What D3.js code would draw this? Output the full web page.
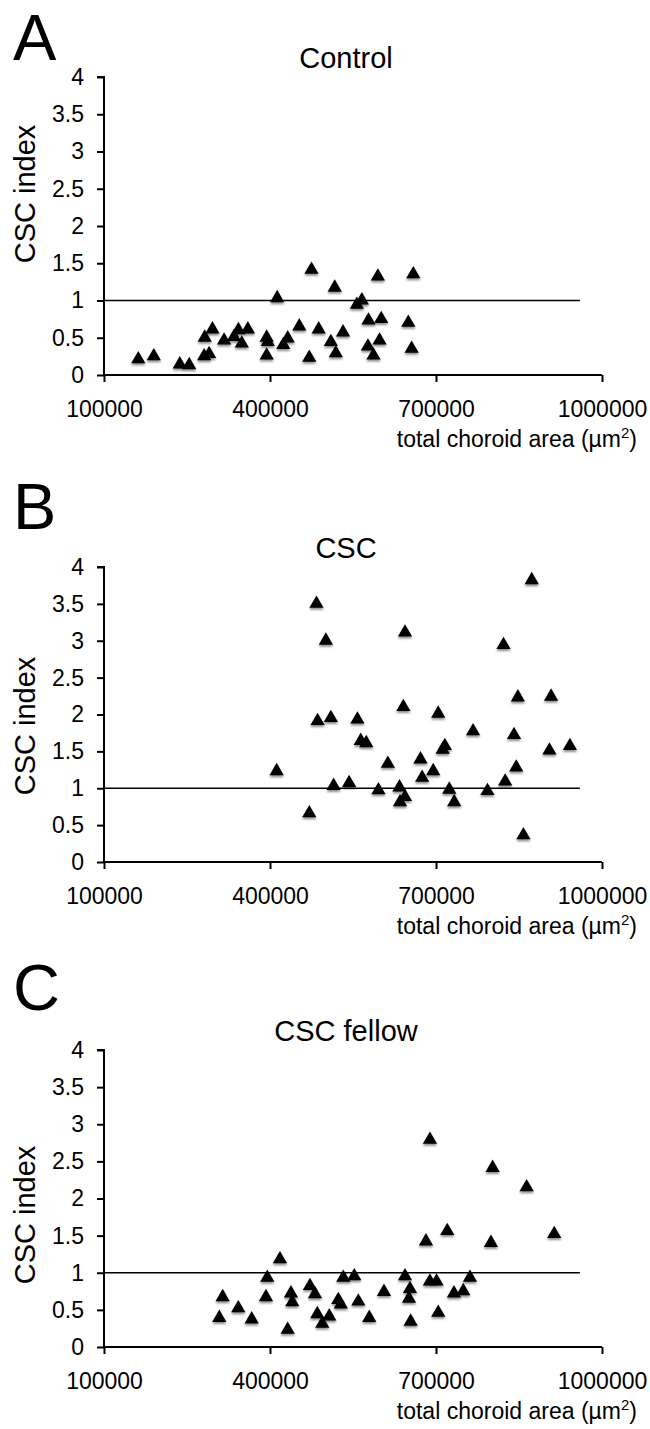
<!DOCTYPE html>
<html>
<head>
<meta charset="utf-8">
<script src="https://cdn.jsdelivr.net/npm/d3@7"></script>
<style>
  body { margin: 0; background: #fff; }
  svg { display: block; font-family: "Liberation Sans", Arial, sans-serif; }
</style>
</head>
<body>
<svg id="chart" width="650" height="1429"></svg>
<script>
// values: [total choroid area, CSC index]
const controlPts = [
  [162000,0.24],[190000,0.28],[237000,0.17],[254000,0.16],[281000,0.28],[290000,0.31],
  [282000,0.53],[296000,0.64],[317000,0.49],[335000,0.54],[343000,0.63],[349000,0.45],
  [360000,0.64],[394000,0.53],[396000,0.47],[394000,0.29],[424000,0.43],[432000,0.52],
  [413000,1.06],[453000,0.68],[471000,0.26],[475000,1.44],[488000,0.64],[510000,0.47],
  [519000,0.32],[517000,1.20],[532000,0.60],[557000,0.97],[566000,1.03],[578000,0.76],
  [577000,0.41],[587000,0.29],[598000,0.49],[601000,0.78],[595000,1.35],[659000,1.38],
  [650000,0.73],[656000,0.38]
];
const cscPts = [
  [412000,1.26],[471000,0.69],[484000,3.53],[501000,3.03],[486000,1.94],[510000,1.98],
  [515000,1.06],[543000,1.10],[558000,1.96],[564000,1.67],[574000,1.64],[596000,1.00],
  [613000,1.36],[873000,3.85],[644000,3.14],[822000,2.97],[848000,2.26],[908000,2.27],
  [641000,2.13],[704000,2.04],[767000,1.80],[841000,1.75],[905000,1.54],[942000,1.60],
  [716000,1.60],[712000,1.55],[672000,1.42],[695000,1.26],[675000,1.17],[634000,1.04],
  [724000,1.01],[793000,0.99],[825000,1.12],[845000,1.31],[644000,0.91],[635000,0.84],
  [733000,0.84],[858000,0.39]
];
const fellowPts = [
  [314500,0.70],[308400,0.42],[342700,0.55],[366900,0.40],[395100,0.96],[392700,0.70],
  [418000,1.21],[437900,0.75],[440300,0.63],[432000,0.26],[863800,2.18],[681900,1.45],
  [720400,1.59],[799300,1.43],[913700,1.55],[532500,0.96],[552300,0.98],[644000,0.98],
  [689000,0.91],[701000,0.91],[761400,0.96],[472200,0.85],[481300,0.74],[523400,0.66],
  [528000,0.60],[559600,0.64],[606000,0.77],[653000,0.81],[651200,0.68],[732500,0.75],
  [749300,0.78],[485500,0.47],[507100,0.44],[494500,0.34],[579400,0.42],[654200,0.37],
  [704100,0.49],[689100,2.82],[802300,2.44]
];

const xTicks = [100000, 400000, 700000, 1000000];
const yTicks = [0, 0.5, 1, 1.5, 2, 2.5, 3, 3.5, 4];
const refLine = [[100000, 1], [960000, 1]];

const panels = [
  { letter: 'A', title: 'Control',    data: controlPts, top: 77,   bottom: 375,  letterY: 60,   titleY: 58,   labelY: 194 },
  { letter: 'B', title: 'CSC',        data: cscPts,     top: 567,  bottom: 862,  letterY: 529,  titleY: 548,  labelY: 726 },
  { letter: 'C', title: 'CSC fellow', data: fellowPts,  top: 1050, bottom: 1347, letterY: 1010, titleY: 1031, labelY: 1215 }
];

const left = 104, right = 602;
const svg = d3.select('#chart');

// soft grey shadow under the markers, like the original
const defs = svg.append('defs');
defs.append('filter').attr('id', 'shadow')
  .attr('x', '-50%').attr('y', '-50%').attr('width', '200%').attr('height', '200%')
  .append('feDropShadow')
  .attr('dx', 0).attr('dy', 2).attr('stdDeviation', 1.2)
  .attr('flood-color', '#000').attr('flood-opacity', 0.45);

const x = d3.scaleLinear().domain([100000, 1000000]).range([left, right]);
const tri = d3.symbol().type(d3.symbolTriangle).size(88);

panels.forEach(p => {
  const y = d3.scaleLinear().domain([0, 4]).range([p.bottom, p.top]);
  const g = svg.append('g');

  g.append('text')
    .attr('x', 13).attr('y', p.letterY)
    .attr('font-size', 65)
    .text(p.letter);

  g.append('text')
    .attr('x', 346).attr('y', p.titleY)
    .attr('dy', '0.35em')
    .attr('text-anchor', 'middle')
    .attr('font-size', 29)
    .text(p.title);

  // y axis
  const yAxis = g.append('g')
    .attr('transform', `translate(${left},0)`)
    .call(d3.axisLeft(y).tickValues(yTicks).tickSize(7).tickPadding(13).tickFormat(d3.format('')));
  yAxis.select('.domain').attr('d', `M-7,${p.top}H0V${p.bottom}`);

  // x axis
  const xAxis = g.append('g')
    .attr('transform', `translate(0,${p.bottom})`)
    .call(d3.axisBottom(x).tickValues(xTicks).tickSize(7).tickPadding(19).tickFormat(d3.format('d')));
  xAxis.select('.domain').attr('d', `M${left},0H${right}`);

  [yAxis, xAxis].forEach(a => {
    a.selectAll('.domain, .tick line').attr('stroke', '#000').attr('stroke-width', 2);
    a.selectAll('text').attr('font-size', 23).attr('fill', '#000')
      .attr('font-family', '"Liberation Sans", Arial, sans-serif');
  });

  g.append('text')
    .attr('transform', `translate(35,${p.labelY}) rotate(-90)`)
    .attr('text-anchor', 'middle')
    .attr('font-size', 29)
    .text('CSC index');

  const xt = g.append('text')
    .attr('x', 637).attr('y', p.bottom + 72)
    .attr('text-anchor', 'end')
    .attr('font-size', 23)
    .text('total choroid area (µm');
  xt.append('tspan').attr('font-size', 15).attr('dy', -9).text('2');
  xt.append('tspan').attr('dy', 9).text(')');

  // reference line at index 1
  g.append('path')
    .datum(refLine)
    .attr('d', d3.line().x(d => x(d[0])).y(d => y(d[1])))
    .attr('stroke', '#000').attr('stroke-width', 1.6).attr('fill', 'none');

  g.append('g').attr('filter', 'url(#shadow)')
    .selectAll('path')
    .data(p.data)
    .join('path')
    .attr('d', tri)
    .attr('transform', d => `translate(${x(d[0])},${y(d[1]) + 2})`)
    .attr('fill', '#000');
});
</script>
</body>
</html>
